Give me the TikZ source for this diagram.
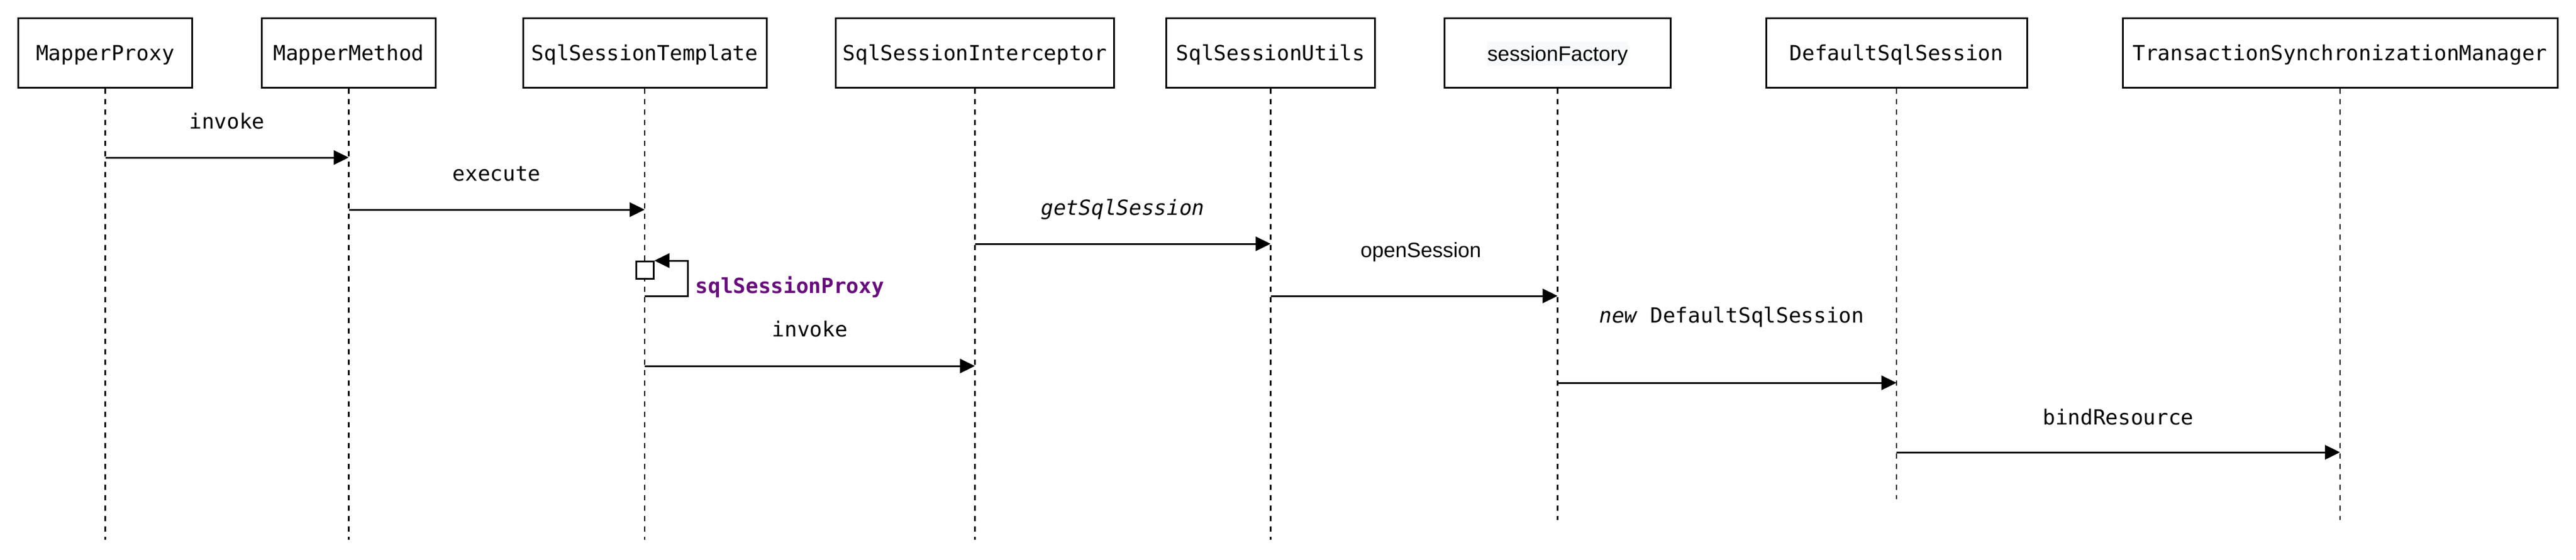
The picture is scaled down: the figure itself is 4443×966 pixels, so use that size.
\documentclass[tikz,border=0pt]{standalone}
\usepackage{fontspec}
\setmonofont{DejaVu Sans Mono}
\setsansfont{Liberation Sans}
\usetikzlibrary{arrows.meta}
\definecolor{proxypurple}{HTML}{660E7A}
\definecolor{labelgray}{HTML}{F8F9FA}

\tikzstyle{actor} = [draw, line width=0.75pt, minimum height=30pt, inner sep=0pt, text height=6.6pt, text depth=0pt, font=\ttfamily\fontsize{9}{11}\selectfont]
\tikzstyle{lifeline} = [line width=0.6pt, dash pattern=on 2.25pt off 2.25pt]
\tikzstyle{call} = [line width=0.75pt, -{Triangle[length=6.5pt, width=6.2pt]}]
\tikzstyle{callname} = [midway, anchor=base, inner sep=0pt, font=\ttfamily\fontsize{9}{11}\selectfont]
\tikzstyle{activation} = [draw, fill=white, line width=0.75pt, minimum size=7.5pt, inner sep=0pt]

\begin{document}
\begin{tikzpicture}[x=0.25pt, y=-0.25pt]
	\useasboundingbox (0,0) rectangle (4443,966);
	% participants
	\node[actor, minimum width=75pt] (proxy) at (181.5,91) {MapperProxy};
	\node[actor, minimum width=75pt] (method) at (601.5,91) {MapperMethod};
	\node[actor, minimum width=105pt] (template) at (1112,91) {SqlSessionTemplate};
	\node[actor, minimum width=120pt] (interceptor) at (1681.5,91) {SqlSessionInterceptor};
	\node[actor, minimum width=90pt] (utils) at (2191.5,91) {SqlSessionUtils};
	\node[actor, minimum width=97.5pt] (factory) at (2686.5,91) {};
	\node[fill=labelgray, inner sep=0pt, text height=8.25pt, text depth=2.25pt,
	    font=\sffamily\fontsize{9}{11}\selectfont] (factoryname) at (2686.5,93) {sessionFactory};
	\node[actor, minimum width=112.5pt] (session) at (3271,91) {DefaultSqlSession};
	\node[actor, minimum width=187.5pt] (tsm) at (4036,91) {TransactionSynchronizationManager};
	% lifelines
	\foreach \p/\e in {proxy/932, method/932, template/932, interceptor/932,
	    utils/932, factory/898, session/862, tsm/898} {
	    \coordinate (\p-end) at (\p |- 0,\e);
	    \draw[lifeline] (\p.south) -- (\p-end);
	}
	% messages
	\draw[call] (proxy |- 0,272) -- (method |- 0,272)
	    node[callname, yshift=12.5pt] {invoke};
	\draw[call] (method |- 0,362) -- (template |- 0,362)
	    node[callname, yshift=12.5pt] {execute};
	\node[activation] (proxycall) at (1112,466.5) {};
	\coordinate (loopout) at (1112,511);
	\draw[call] (loopout) -- ++(74,0) |- (proxycall.north east);
	\node[anchor=base west, inner sep=0pt, text=proxypurple,
	    font=\ttfamily\bfseries\fontsize{9}{11}\selectfont] (proxyname) at (1199,506) {sqlSessionProxy};
	\draw[call] (template |- 0,632) -- (interceptor |- 0,632)
	    node[callname, yshift=12.75pt] {invoke};
	\draw[call] (interceptor |- 0,421) -- (utils |- 0,421)
	    node[callname, yshift=12.5pt] {\itshape getSqlSession};
	\draw[call] (utils |- 0,511) -- (factory |- 0,511)
	    node[callname, yshift=16.75pt, xshift=2.9pt, font=\sffamily\fontsize{9}{11}\selectfont] {openSession};
	\draw[call] (factory |- 0,661) -- (session |- 0,661)
	    node[callname, yshift=26pt, xshift=2pt] {\textit{new} DefaultSqlSession};
	\draw[call] (session |- 0,781) -- (tsm |- 0,781)
	    node[callname, yshift=12pt] {bindResource};
\end{tikzpicture}
\end{document}
